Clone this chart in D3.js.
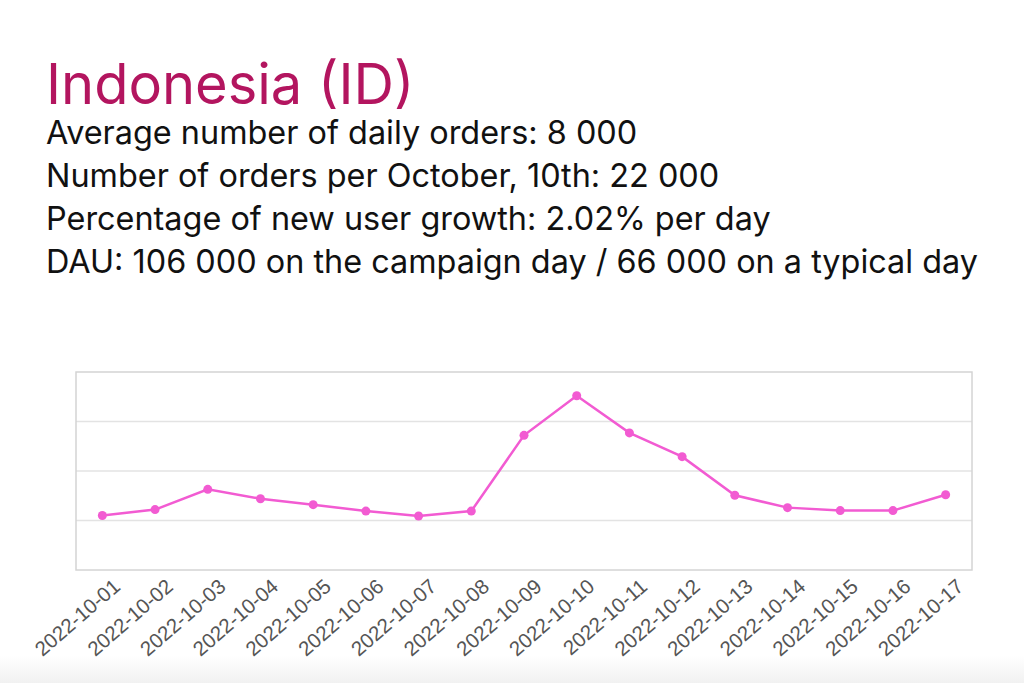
<!DOCTYPE html>
<html>
<head>
<meta charset="utf-8">
<script src="https://cdn.jsdelivr.net/npm/d3@7"></script>
<style>
  body { margin: 0; background: #fff; }
  svg { display: block; }
</style>
</head>
<body>
<script>
// header text
let title = 'Indonesia (ID)'
let notes = [
  'Average number of daily orders: 8 000',
  'Number of orders per October, 10th: 22 000',
  'Percentage of new user growth: 2.02% per day',
  'DAU: 106 000 on the campaign day / 66 000 on a typical day'
]

// daily orders (no y labels in the original)
let dates = ['2022-10-01', '2022-10-02', '2022-10-03', '2022-10-04', '2022-10-05',
  '2022-10-06', '2022-10-07', '2022-10-08', '2022-10-09', '2022-10-10', '2022-10-11',
  '2022-10-12', '2022-10-13', '2022-10-14', '2022-10-15', '2022-10-16', '2022-10-17']
let orders = [5500, 6100, 8150, 7200, 6600, 5950, 5450, 5950, 13600, 17600, 13850,
  11450, 7550, 6300, 6000, 6000, 7600]
let yTicks = [0, 5000, 10000, 15000, 20000]

let width = 1024
let height = 683

let margin = ({top: 372, right: 52, bottom: 113, left: 76})

const svg = d3.select('body').append('svg')
    .attr('width', width)
    .attr('height', height)

// faint shade at the bottom edge
let grad = svg.append('defs').append('linearGradient')
    .attr('id', 'shade')
    .attr('x1', 0).attr('y1', 0).attr('x2', 0).attr('y2', 1)
grad.append('stop').attr('offset', '0%').attr('stop-color', '#fff')
grad.append('stop').attr('offset', '100%').attr('stop-color', '#f1f1f1')
svg.append('rect')
    .attr('x', 0).attr('y', 655)
    .attr('width', width).attr('height', height - 655)
    .attr('fill', 'url(#shade)')

svg.append('text')
    .text(title)
    .attr('x', 46)
    .attr('y', 104)
    .attr('fill', '#b3155f')
    .style('font-family', 'Inter, "Noto Sans", sans-serif')
    .style('font-size', '56px')

svg.append('g')
  .selectAll('text')
  .data(notes)
  .join('text')
    .text(d => d)
    .attr('x', 46)
    .attr('y', (d, i) => 144 + i * 43)
    .attr('fill', '#111')
    .style('font-family', 'Inter, "Noto Sans", sans-serif')
    .style('font-size', '32.4px')

let x = d3.scalePoint()
    .domain(dates)
    .range([margin.left, width - margin.right])
    .padding(0.5)

let y = d3.scaleLinear()
    .domain([0, 20000])
    .range([height - margin.bottom, margin.top])

// grid lines
svg.append('g')
  .selectAll('line')
  .data(yTicks.slice(1, -1))
  .join('line')
    .attr('x1', margin.left)
    .attr('x2', width - margin.right)
    .attr('y1', d => y(d))
    .attr('y2', d => y(d))
    .attr('stroke', '#e3e3e3')
    .attr('stroke-width', 1.5)

// plot frame
svg.append('rect')
    .attr('x', margin.left)
    .attr('y', y(20000))
    .attr('width', width - margin.right - margin.left)
    .attr('height', y(0) - y(20000))
    .attr('fill', 'none')
    .attr('stroke', '#d4d4d4')
    .attr('stroke-width', 1.5)

let xAxis = g => g
    .attr('transform', `translate(0,${y(0)})`)
    .call(d3.axisBottom(x).tickSize(0).tickPadding(18))
    .call(g => g.selectAll('.domain').remove())
    .selectAll('text')
      .style('text-anchor', 'end')
      .style('font-family', '"Liberation Sans", Arial, sans-serif')
      .style('font-size', '20.5px')
      .attr('fill', '#555')
      .attr('dx', '0.1em')
      .attr('dy', '0.4em')
      .attr('transform', 'rotate(-41)')

svg.append('g').call(xAxis)

let line = d3.line()
    .x((d, i) => x(dates[i]))
    .y(d => y(d))

svg.append('path')
    .datum(orders)
    .attr('d', line)
    .attr('fill', 'none')
    .attr('stroke', '#f25bd2')
    .attr('stroke-width', 2.5)

svg.append('g')
  .selectAll('circle')
  .data(orders)
  .join('circle')
    .attr('cx', (d, i) => x(dates[i]))
    .attr('cy', d => y(d))
    .attr('r', 4.5)
    .attr('fill', '#f25bd2')
</script>
</body>
</html>
